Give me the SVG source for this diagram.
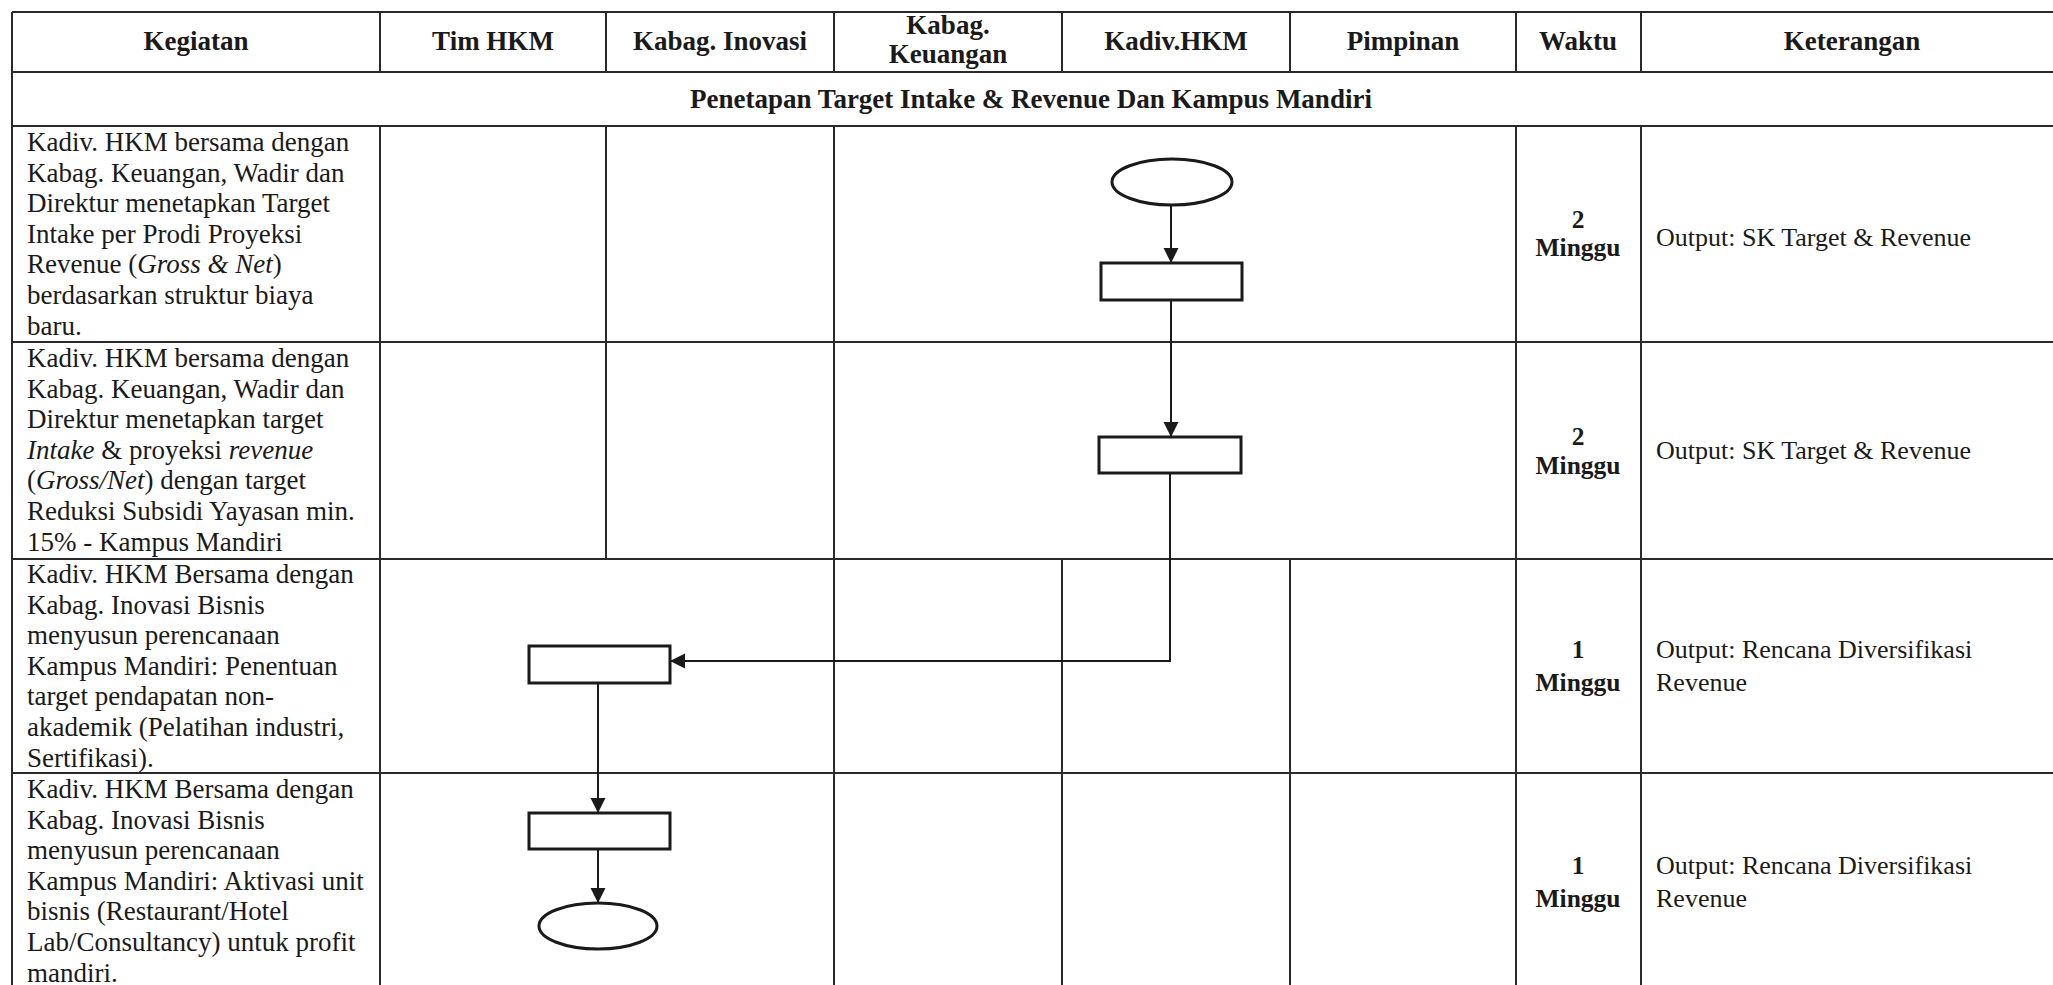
<svg xmlns="http://www.w3.org/2000/svg" width="2053" height="985" viewBox="0 0 2053 985">
<defs>
<style>
.grid line{stroke:#2a2a2a;stroke-width:2}
.hd{font-family:"Liberation Serif","Times New Roman",serif;font-weight:bold;font-size:27px;fill:#1a1a1a;text-anchor:middle}
.tx{font-family:"Liberation Serif","Times New Roman",serif;font-size:27px;fill:#1a1a1a}
.kt{font-family:"Liberation Serif","Times New Roman",serif;font-size:26px;fill:#1a1a1a}
.wk{font-family:"Liberation Serif","Times New Roman",serif;font-weight:bold;font-size:25.5px;fill:#1a1a1a;text-anchor:middle}
.shape{fill:#fff;stroke:#1a1a1a;stroke-width:3}
.conn path{fill:none;stroke:#1a1a1a;stroke-width:2}
</style>
<marker id="arr" markerWidth="16" markerHeight="16" refX="15" refY="7.5" orient="auto" markerUnits="userSpaceOnUse">
<path d="M0,0 L15,7.5 L0,15 z" fill="#1a1a1a"/>
</marker>
</defs>
<rect width="2053" height="985" fill="#ffffff"/>

<g id="table" class="grid">
<line x1="12" y1="12" x2="2060" y2="12"/>
<line x1="12" y1="72" x2="2060" y2="72"/>
<line x1="12" y1="126" x2="2060" y2="126"/>
<line x1="12" y1="342" x2="2060" y2="342"/>
<line x1="12" y1="559" x2="2060" y2="559"/>
<line x1="12" y1="773" x2="2060" y2="773"/>
<line x1="12" y1="12" x2="12" y2="985"/>
<line x1="380" y1="12" x2="380" y2="72"/>
<line x1="606" y1="12" x2="606" y2="72"/>
<line x1="834" y1="12" x2="834" y2="72"/>
<line x1="1062" y1="12" x2="1062" y2="72"/>
<line x1="1290" y1="12" x2="1290" y2="72"/>
<line x1="1516" y1="12" x2="1516" y2="72"/>
<line x1="1641" y1="12" x2="1641" y2="72"/>
<line x1="380" y1="126" x2="380" y2="985"/>
<line x1="606" y1="126" x2="606" y2="559"/>
<line x1="834" y1="126" x2="834" y2="985"/>
<line x1="1062" y1="559" x2="1062" y2="985"/>
<line x1="1290" y1="559" x2="1290" y2="985"/>
<line x1="1516" y1="126" x2="1516" y2="985"/>
<line x1="1641" y1="126" x2="1641" y2="985"/>
</g>

<g id="headers">
<text class="hd" x="196" y="50">Kegiatan</text>
<text class="hd" x="493" y="50">Tim HKM</text>
<text class="hd" x="720" y="50">Kabag. Inovasi</text>
<text class="hd" x="948" y="34">Kabag.</text>
<text class="hd" x="948" y="63">Keuangan</text>
<text class="hd" x="1176" y="50">Kadiv.HKM</text>
<text class="hd" x="1403" y="50">Pimpinan</text>
<text class="hd" x="1578" y="50">Waktu</text>
<text class="hd" x="1852" y="50">Keterangan</text>
<text class="hd" x="1031" y="108">Penetapan Target Intake &amp; Revenue Dan Kampus Mandiri</text>
</g>

<g id="kegiatan">
<text class="tx" x="27" y="151">Kadiv. HKM bersama dengan</text>
<text class="tx" x="27" y="181.6">Kabag. Keuangan, Wadir dan</text>
<text class="tx" x="27" y="212.2">Direktur menetapkan Target</text>
<text class="tx" x="27" y="242.8">Intake per Prodi Proyeksi</text>
<text class="tx" x="27" y="273.4">Revenue (<tspan font-style="italic">Gross &amp; Net</tspan>)</text>
<text class="tx" x="27" y="304">berdasarkan struktur biaya</text>
<text class="tx" x="27" y="334.6">baru.</text>

<text class="tx" x="27" y="367">Kadiv. HKM bersama dengan</text>
<text class="tx" x="27" y="397.6">Kabag. Keuangan, Wadir dan</text>
<text class="tx" x="27" y="428.2">Direktur menetapkan target</text>
<text class="tx" x="27" y="458.8"><tspan font-style="italic">Intake</tspan> &amp; proyeksi <tspan font-style="italic">revenue</tspan></text>
<text class="tx" x="27" y="489.4">(<tspan font-style="italic">Gross/Net</tspan>) dengan target</text>
<text class="tx" x="27" y="520">Reduksi Subsidi Yayasan min.</text>
<text class="tx" x="27" y="550.6">15% - Kampus Mandiri</text>

<text class="tx" x="27" y="583">Kadiv. HKM Bersama dengan</text>
<text class="tx" x="27" y="613.6">Kabag. Inovasi Bisnis</text>
<text class="tx" x="27" y="644.2">menyusun perencanaan</text>
<text class="tx" x="27" y="674.8">Kampus Mandiri: Penentuan</text>
<text class="tx" x="27" y="705.4">target pendapatan non-</text>
<text class="tx" x="27" y="736">akademik (Pelatihan industri,</text>
<text class="tx" x="27" y="766.6">Sertifikasi).</text>

<text class="tx" x="27" y="798">Kadiv. HKM Bersama dengan</text>
<text class="tx" x="27" y="828.6">Kabag. Inovasi Bisnis</text>
<text class="tx" x="27" y="859.2">menyusun perencanaan</text>
<text class="tx" x="27" y="889.8">Kampus Mandiri: Aktivasi unit</text>
<text class="tx" x="27" y="920.4">bisnis (Restaurant/Hotel</text>
<text class="tx" x="27" y="951">Lab/Consultancy) untuk profit</text>
<text class="tx" x="27" y="981.6">mandiri.</text>
</g>

<g id="waktu">
<text class="wk" x="1578" y="228">2</text>
<text class="wk" x="1578" y="256">Minggu</text>
<text class="wk" x="1578" y="445">2</text>
<text class="wk" x="1578" y="474">Minggu</text>
<text class="wk" x="1578" y="658">1</text>
<text class="wk" x="1578" y="691">Minggu</text>
<text class="wk" x="1578" y="874">1</text>
<text class="wk" x="1578" y="907">Minggu</text>
</g>

<g id="keterangan">
<text class="kt" x="1656" y="246">Output: SK Target &amp; Revenue</text>
<text class="kt" x="1656" y="459">Output: SK Target &amp; Revenue</text>
<text class="kt" x="1656" y="658">Output: Rencana Diversifikasi</text>
<text class="kt" x="1656" y="691">Revenue</text>
<text class="kt" x="1656" y="874">Output: Rencana Diversifikasi</text>
<text class="kt" x="1656" y="907">Revenue</text>
</g>

<g id="connectors" class="conn">
<path d="M1171,206 V263" marker-end="url(#arr)"/>
<path d="M1171,300 V437" marker-end="url(#arr)"/>
<path d="M1170,473 V661 H670" marker-end="url(#arr)"/>
<path d="M598,683 V813" marker-end="url(#arr)"/>
<path d="M598,849 V903" marker-end="url(#arr)"/>
</g>

<g id="start"><ellipse class="shape" cx="1172" cy="182" rx="60" ry="23"/></g>
<g id="step1"><rect class="shape" x="1101" y="263" width="141" height="37"/></g>
<g id="step2"><rect class="shape" x="1099" y="437" width="142" height="36"/></g>
<g id="step3"><rect class="shape" x="529" y="646" width="141" height="37"/></g>
<g id="step4"><rect class="shape" x="529" y="813" width="141" height="36"/></g>
<g id="end"><ellipse class="shape" cx="598" cy="926" rx="59" ry="23"/></g>
</svg>
